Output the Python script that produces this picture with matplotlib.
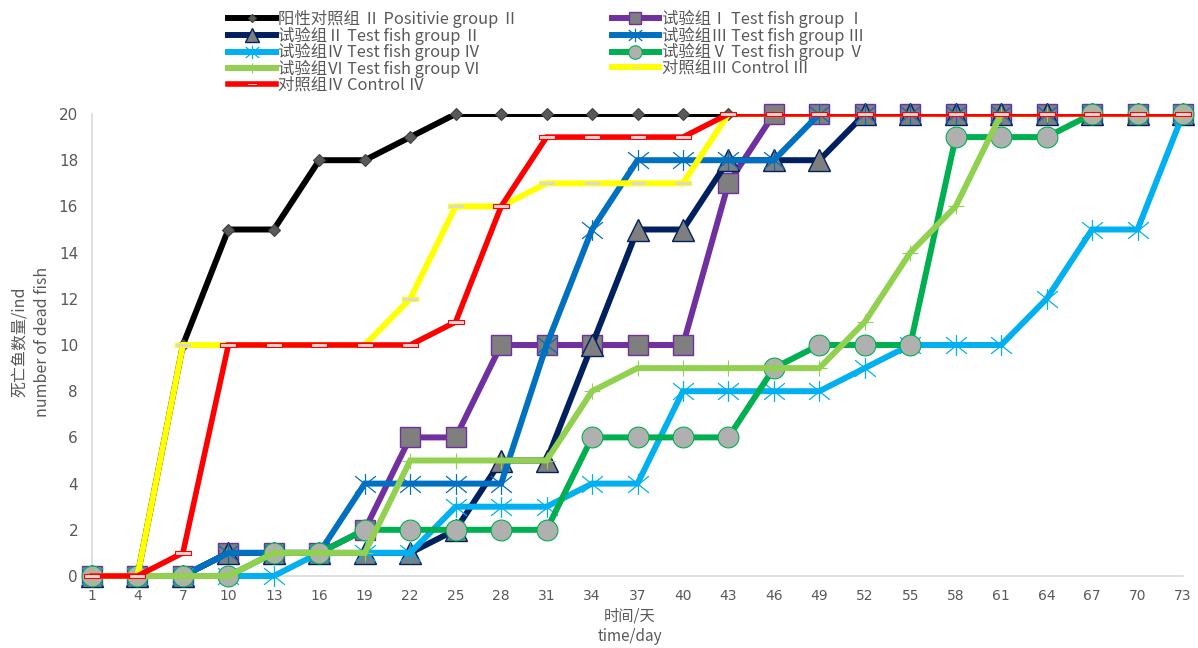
#!/usr/bin/env python3
import numpy as np
import matplotlib
matplotlib.use("Agg")
import matplotlib.pyplot as plt
from matplotlib.lines import Line2D
from matplotlib.patches import Rectangle
from matplotlib.path import Path

plt.rcParams["font.family"] = ["Noto Sans CJK SC", "DejaVu Sans"]

DAYS = ["1", "4", "7", "10", "13", "16", "19", "22", "25", "28", "31", "34", "37",
        "40", "43", "46", "49", "52", "55", "58", "61", "64", "67", "70", "73"]

POSITIVE_II = [0, 0, 10, 15, 15, 18, 18, 19, 20, 20, 20, 20, 20, 20, 20, 20, 20, 20, 20, 20, 20, 20, 20, 20, 20]
TEST_I = [0, 0, 0, 1, 1, 1, 2, 6, 6, 10, 10, 10, 10, 10, 17, 20, 20, 20, 20, 20, 20, 20, 20, 20, 20]
TEST_II = [0, 0, 0, 1, 1, 1, 1, 1, 2, 5, 5, 10, 15, 15, 18, 18, 18, 20, 20, 20, 20, 20, 20, 20, 20]
TEST_III = [0, 0, 0, 1, 1, 1, 4, 4, 4, 4, 10, 15, 18, 18, 18, 18, 20, 20, 20, 20, 20, 20, 20, 20, 20]
TEST_IV = [0, 0, 0, 0, 0, 1, 1, 1, 3, 3, 3, 4, 4, 8, 8, 8, 8, 9, 10, 10, 10, 12, 15, 15, 20]
TEST_V = [0, 0, 0, 0, 1, 1, 2, 2, 2, 2, 2, 6, 6, 6, 6, 9, 10, 10, 10, 19, 19, 19, 20, 20, 20]
TEST_VI = [0, 0, 0, 0, 1, 1, 1, 5, 5, 5, 5, 8, 9, 9, 9, 9, 9, 11, 14, 16, 20, 20, 20, 20, 20]
CONTROL_III = [0, 0, 10, 10, 10, 10, 10, 12, 16, 16, 17, 17, 17, 17, 20, 20, 20, 20, 20, 20, 20, 20, 20, 20, 20]
CONTROL_IV = [0, 0, 1, 10, 10, 10, 10, 10, 11, 16, 19, 19, 19, 19, 20, 20, 20, 20, 20, 20, 20, 20, 20, 20, 20]

LABELS = [
    "阳性对照组 Ⅱ Positivie group Ⅱ",
    "试验组Ⅰ Test fish group Ⅰ",
    "试验组Ⅱ Test fish group Ⅱ",
    "试验组Ⅲ Test fish group Ⅲ",
    "试验组Ⅳ Test fish group Ⅳ",
    "试验组Ⅴ Test fish group Ⅴ",
    "试验组Ⅵ Test fish group Ⅵ",
    "对照组Ⅲ Control Ⅲ",
    "对照组Ⅳ Control Ⅳ",
]

TEXT_COLOR = "#595959"

# excel style "star" marker: an x with a vertical bar
STAR = Path([(-1, -0.8), (1, 0.8), (-1, 0.8), (1, -0.8), (0, -1), (0, 1)],
            [Path.MOVETO, Path.LINETO, Path.MOVETO, Path.LINETO, Path.MOVETO, Path.LINETO])
DASH = [(-1, -0.28), (1, -0.28), (1, 0.28), (-1, 0.28), (-1, -0.28)]

STYLES = [
    dict(color="#000000", lw=4.3, marker="D", ms=6.5, mfc="#595959", mec="#404040", mew=0.8),
    dict(color="#7030A0", lw=4.3, marker="s", ms=14, mfc="#7F7F7F", mec="#7030A0", mew=1.0),
    dict(color="#002060", lw=4.3, marker="^", ms=16, mfc="#7F7F7F", mec="#002060", mew=1.0),
    dict(color="#0070C0", lw=4.3, marker=STAR, ms=15, mfc="none", mec="#0070C0", mew=0.9),
    dict(color="#00B0F0", lw=4.3, marker=STAR, ms=15, mfc="none", mec="#00B0F0", mew=0.9),
    dict(color="#00B050", lw=4.3, marker="o", ms=15, mfc="#B0B0B0", mec="#00B050", mew=0.8),
    dict(color="#92D050", lw=4.3, marker="+", ms=12, mfc="none", mec="#92D050", mew=0.8),
    dict(color="#FFFF00", lw=4.3, marker=DASH, ms=11, mfc="#D9D9D9", mec="#FFFF00", mew=0.8),
    dict(color="#FF0000", lw=4.0, marker=DASH, ms=11, mfc="#D9D9D9", mec="#FF0000", mew=0.8),
]

SERIES = [POSITIVE_II, TEST_I, TEST_II, TEST_III, TEST_IV, TEST_V, TEST_VI, CONTROL_III, CONTROL_IV]


def main():
    fig = plt.figure(figsize=(11.98, 6.48), dpi=100)
    ax = fig.add_axes([92 / 1198, 1 - 576 / 648, (1183 - 92) / 1198, (576 - 114) / 648])

    # lines get cut at the top of the plot area (like excel), markers do not
    clip = Rectangle((-0.02, -0.05), 1.04, 1.05, transform=ax.transAxes,
                     fill=False, visible=False)
    ax.add_patch(clip)

    x = np.arange(len(DAYS))
    handles = []
    for values, style in zip(SERIES, STYLES):
        line_kw = {k: v for k, v in style.items() if k in ("color", "lw")}
        mark_kw = {k: v for k, v in style.items() if k not in ("color", "lw")}
        line, = ax.plot(x, values, solid_joinstyle="miter", zorder=3, **line_kw)
        line.set_clip_path(clip)
        ax.plot(x, values, ls="none", clip_on=False, zorder=3, **mark_kw)
        small = dict(style)
        small["ms"] = style["ms"] * 0.65
        handles.append(Line2D([], [], **small))

    ax.set_xlim(0, len(DAYS) - 1)
    ax.set_ylim(0, 20)
    ax.set_xticks(x)
    ax.set_xticklabels(DAYS, fontsize=10, color=TEXT_COLOR, family="DejaVu Sans")
    ax.set_yticks(np.arange(0, 21, 2))
    ax.tick_params(axis="y", labelsize=11, labelcolor=TEXT_COLOR, length=0, pad=10)
    ax.tick_params(axis="x", length=0, pad=9)
    for lab in ax.get_yticklabels():
        lab.set_family("DejaVu Sans")

    for side in ["top", "right"]:
        ax.spines[side].set_visible(False)
    for side in ["left", "bottom"]:
        ax.spines[side].set_color("#D9D9D9")
        ax.spines[side].set_linewidth(1.2)
        ax.spines[side].set_zorder(1)

    fig.text(31 / 1198, 1 - 342 / 648, "死亡鱼数量/ind\nnumber of dead fish",
             rotation=90, ha="center", va="center", ma="center",
             fontsize=11.5, color=TEXT_COLOR, linespacing=1.5)
    fig.text(630 / 1198, 1 - 626 / 648, "时间/天\ntime/day",
             ha="center", va="center", ma="center",
             fontsize=11, color=TEXT_COLOR, linespacing=1.3)

    order = [0, 2, 4, 6, 8, 1, 3, 5, 7]
    leg = fig.legend([handles[i] for i in order], [LABELS[i] for i in order],
                     loc="upper left", bbox_to_anchor=(228 / 1198, 1 - 10 / 648),
                     ncol=2, frameon=False, fontsize=11.8, handlelength=2.9,
                     handletextpad=0.15, columnspacing=5.7, labelspacing=-0.1,
                     borderaxespad=0, borderpad=0)
    for t in leg.get_texts():
        t.set_color(TEXT_COLOR)

    fig.savefig("out.png", dpi=100)
    plt.close(fig)


if __name__ == "__main__":
    main()
